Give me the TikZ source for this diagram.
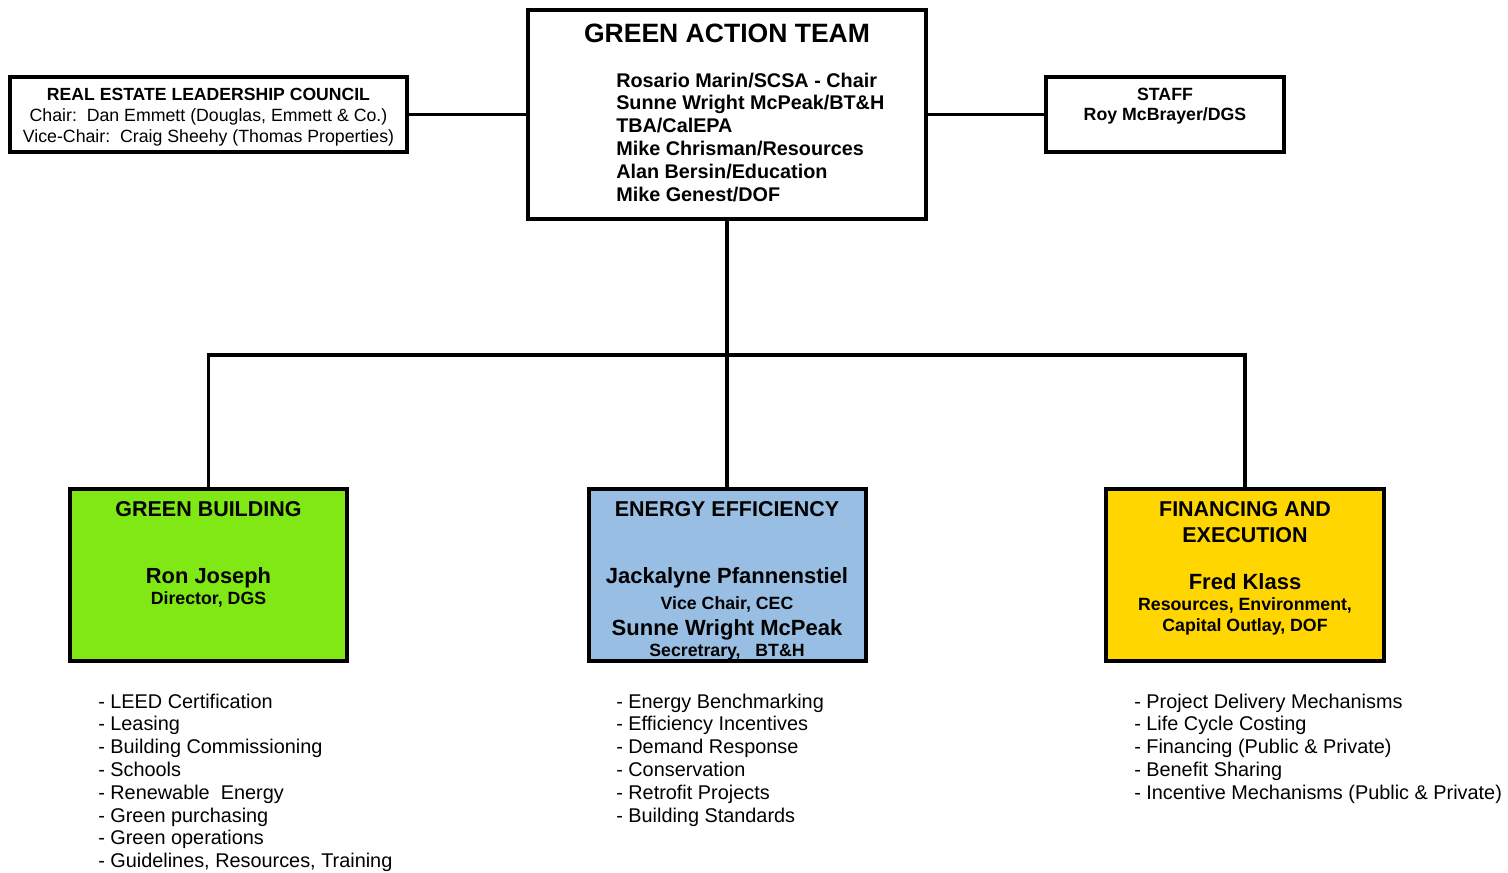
\documentclass[tikz,border=0pt]{standalone}
\usepackage{fontspec}
\setmainfont{Liberation Sans}
\usepackage{xcolor}
\usetikzlibrary{positioning}
\definecolor{gbgreen}{RGB}{128,232,20}
\definecolor{eeblue}{RGB}{153,190,228}
\definecolor{fegold}{RGB}{255,214,0}
\newcommand{\fsz}[1]{\fontsize{#1}{#1}\selectfont}

\begin{document}
\begin{tikzpicture}[x=0.75pt,y=-0.75pt,
	box/.style={draw,line width=3pt,inner sep=0pt},
	link/.style={line width=2.4pt},
	txt/.style={inner sep=0pt,anchor=base},
	item/.style={inner sep=0pt,anchor=base west,font=\fsz{14.9}}]
	\useasboundingbox (0,0) rectangle (1508,872);
	% boxes
	\node[box,fill=white,minimum width=298.5pt,minimum height=156.75pt] (gat) at (727,114.5) {};
	\node[box,fill=white,minimum width=297.75pt,minimum height=56.25pt] (rel) at (208.5,114.5) {};
	\node[box,fill=white,minimum width=178.5pt,minimum height=56.25pt] (staff) at (1165,114.5) {};
	\node[box,fill=gbgreen,minimum width=207.75pt,minimum height=129pt] (green) at (208.5,575) {};
	\node[box,fill=eeblue,minimum width=207.75pt,minimum height=129pt] (blue) at (727,575) {};
	\node[box,fill=fegold,minimum width=208.5pt,minimum height=129pt] (gold) at (1245,575) {};
	% connectors
	\coordinate (bus) at (727,355);
	\draw[link] (rel.east) -- (gat.west);
	\draw[link] (gat.east) -- (staff.west);
	\draw[link] (gat.south) -- (blue.north);
	\draw[link] (green.north) |- (bus) -| (gold.north);
	% green action team
	\node[txt,font=\fsz{19.9}\bfseries] (gat-title) at (727,42) {GREEN ACTION TEAM};
	\foreach \who [count=\i from 0] in {Rosario Marin/SCSA - Chair,Sunne Wright McPeak/BT\&H,TBA/CalEPA,Mike Chrisman/Resources,Alan Bersin/Education,Mike Genest/DOF}
		\node[txt,anchor=base west,font=\fsz{14.85}\bfseries] (gat-\i) at (616,{87+22.8*\i}) {\who};
	% council and staff
	\node[txt,font=\fsz{13.2}\bfseries] (rel-title) at (208.5,100) {REAL ESTATE LEADERSHIP COUNCIL};
	\node[txt,font=\fsz{13.3}] (rel-chair) at (208.5,121) {Chair:\ \ Dan Emmett (Douglas, Emmett \& Co.)};
	\node[txt,font=\fsz{13.3}] (rel-vice) at (208.5,142) {Vice-Chair:\ \ Craig Sheehy (Thomas Properties)};
	\node[txt,font=\fsz{13.3}\bfseries] (staff-title) at (1165,100) {STAFF};
	\node[txt,font=\fsz{13.3}\bfseries] (staff-name) at (1165,120) {Roy McBrayer/DGS};
	% green building
	\node[txt,font=\fsz{16.1}\bfseries] (green-title) at (208.5,516) {GREEN BUILDING};
	\node[txt,font=\fsz{16.4}\bfseries] (green-name) at (208.5,583) {Ron Joseph};
	\node[txt,font=\fsz{13.3}\bfseries] (green-role) at (208.5,604) {Director, DGS};
	% energy efficiency
	\node[txt,font=\fsz{16.1}\bfseries] (blue-title) at (727,516) {ENERGY EFFICIENCY};
	\node[txt,font=\fsz{16.5}\bfseries] (blue-name1) at (727,583) {Jackalyne Pfannenstiel};
	\node[txt,font=\fsz{13.3}\bfseries] (blue-role1) at (727,609) {Vice Chair, CEC};
	\node[txt,font=\fsz{16.5}\bfseries] (blue-name2) at (727,635) {Sunne Wright McPeak};
	\node[txt,font=\fsz{13.3}\bfseries] (blue-role2) at (727,656) {Secretrary,\ \ \ BT\&H};
	% financing and execution
	\node[txt,font=\fsz{16.1}\bfseries] (gold-title1) at (1245,516) {FINANCING AND};
	\node[txt,font=\fsz{16.1}\bfseries] (gold-title2) at (1245,542) {EXECUTION};
	\node[txt,font=\fsz{16.5}\bfseries] (gold-name) at (1245,589) {Fred Klass};
	\node[txt,font=\fsz{13.3}\bfseries] (gold-role1) at (1245,610) {Resources, Environment,};
	\node[txt,font=\fsz{13.3}\bfseries] (gold-role2) at (1245,631) {Capital Outlay, DOF};
	% task lists
	\foreach \task [count=\i from 0] in {LEED Certification,Leasing,Building Commissioning,Schools,Renewable\ \ Energy,Green purchasing,Green operations,{Guidelines, Resources, Training}}
		\node[item] (green-task-\i) at (98,{708+22.8*\i}) {- \task};
	\foreach \task [count=\i from 0] in {Energy Benchmarking,Efficiency Incentives,Demand Response,Conservation,Retrofit Projects,Building Standards}
		\node[item] (blue-task-\i) at (616,{708+22.8*\i}) {- \task};
	\foreach \task [count=\i from 0] in {Project Delivery Mechanisms,Life Cycle Costing,Financing (Public \& Private),Benefit Sharing,Incentive Mechanisms (Public \& Private)}
		\node[item] (gold-task-\i) at (1134,{708+22.8*\i}) {- \task};
\end{tikzpicture}
\end{document}
